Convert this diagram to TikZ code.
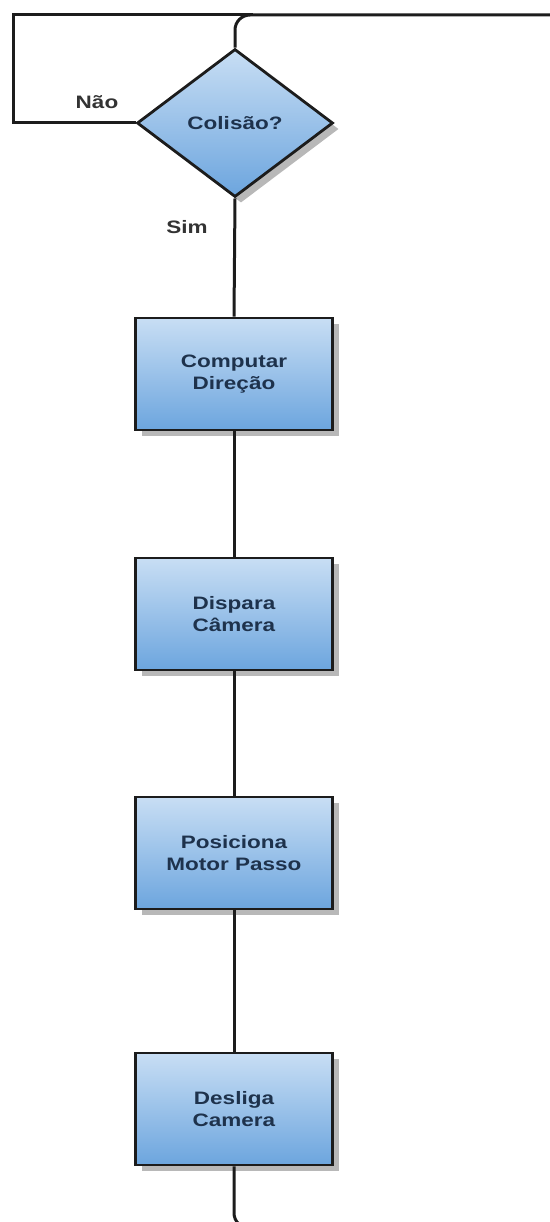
\documentclass[tikz,border=0pt]{standalone}
\usepackage{fontspec}
\newfontfamily\lblfont[FakeStretch=1.25]{Liberation Sans}
\usetikzlibrary{shapes.geometric,shadows}
\definecolor{topblue}{HTML}{C8DEF4}
\definecolor{botblue}{HTML}{6CA5DE}
\definecolor{txtblue}{HTML}{1E324C}
\definecolor{edgec}{HTML}{1C1C1C}
\definecolor{shadec}{HTML}{B8B8B8}
\tikzset{
  boxtext/.style={font=\lblfont\bfseries\fontsize{18}{22}\selectfont, text=txtblue, align=center},
  block/.style={boxtext, draw=edgec, line width=2.8pt, top color=topblue, bottom color=botblue,
    minimum width=197pt, minimum height=112pt, inner sep=0pt,
    drop shadow={shadow xshift=6pt, shadow yshift=-6pt, fill=shadec, opacity=1}},
  decision/.style={boxtext, diamond, draw=edgec, line width=2.8pt, top color=topblue, bottom color=botblue,
    minimum width=196pt, minimum height=148pt, inner sep=0pt,
    drop shadow={shadow xshift=6pt, shadow yshift=-6pt, fill=shadec, opacity=1}},
  conn/.style={draw=edgec, line width=3pt},
  edgelabel/.style={font=\lblfont\bfseries\fontsize{18}{22}\selectfont, text=black!80}
}
\begin{document}
\begin{tikzpicture}[x=1pt,y=-1pt]
\useasboundingbox (0,0) rectangle (549,1222);
\node[decision] (d) at (235,123) {Colisão?};
\node[block] (b1) at (234,374) {Computar\\Direção};
\node[block] (b2) at (234,614) {Dispara\\Câmera};
\node[block] (b3) at (234,853) {Posiciona\\Motor Passo};
\node[block] (b4) at (234,1109) {Desliga\\Camera};
\coordinate (tl) at (13,15);
\coordinate (tj) at (253,15);
\coordinate (tr) at (560,15);
\coordinate (br) at (560,1228);
\node[edgelabel] (nao) at (97,102) {Não};
\node[edgelabel] (sim) at (187,227) {Sim};
\draw[conn] (d.west) -| (tl) -- (tj);
\draw[conn, rounded corners=15pt] (d.north) |- (tr);
\draw[conn] (d.south) -- (b1.north);
\draw[conn] (b1.south) -- (b2.north);
\draw[conn] (b2.south) -- (b3.north);
\draw[conn] (b3.south) -- (b4.north);
\draw[conn, rounded corners=15pt] (b4.south) |- (br);
\end{tikzpicture}
\end{document}
